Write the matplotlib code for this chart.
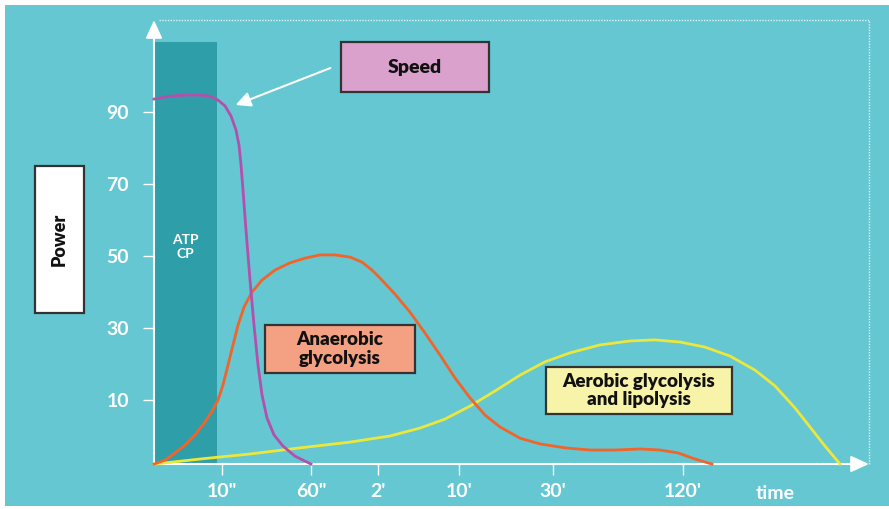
#Energy systems chart: power output of each system versus time
import numpy as np
import matplotlib.pyplot as plt
from matplotlib.patches import Rectangle, FancyArrowPatch

plt.rcParams['font.family'] = ['Lato', 'DejaVu Sans']

W, H = 889, 509

#time axis: positions of the ticks (1 unit = 100 px from origin)
tick_pos = [0.68, 1.57, 2.24, 3.05, 3.99, 5.29]
tick_labels = ['10"', '60"', "2'", "10'", "30'", "120'"]
power_ticks = [10, 30, 50, 70, 90]

#ATP-CP zone
atp_end = 0.63
atp_top = 109.4

#speed curve (purple)
speed_t = [0, 0.16, 0.31, 0.46, 0.56, 0.64, 0.71, 0.77, 0.82, 0.85, 0.87, 0.89, 0.92, 0.96, 1.00,
           1.04, 1.08, 1.13, 1.20, 1.29, 1.41, 1.57]
speed_p = [93.6, 94.4, 94.7, 94.7, 94.4, 93.3, 91.7, 88.9, 85.0, 80.8, 75.3, 68.3, 57.2, 43.3, 30.8,
           19.7, 11.4, 5.0, 0.3, -2.8, -5.6, -7.8]

#anaerobic glycolysis (orange)
anaer_t = [0, 0.11, 0.21, 0.31, 0.41, 0.51, 0.58, 0.64, 0.69, 0.74, 0.79, 0.84, 0.90, 0.98, 1.08,
           1.21, 1.36, 1.51, 1.66, 1.81, 1.96, 2.08, 2.18, 2.28, 2.41, 2.56, 2.71, 2.86, 3.01, 3.16,
           3.31, 3.46, 3.66, 3.86, 4.11, 4.36, 4.61, 4.86, 5.06, 5.24, 5.41, 5.58]
anaer_p = [-7.8, -6.7, -4.7, -2.5, 0.3, 3.9, 6.9, 10.0, 14.2, 19.7, 25.3, 30.8, 35.8, 40.0, 43.3,
           46.1, 48.1, 49.4, 50.3, 50.3, 49.7, 48.3, 46.1, 43.3, 39.4, 34.4, 28.6, 22.5, 16.1, 10.6,
           5.8, 2.5, -0.6, -2.2, -3.3, -3.9, -3.9, -3.6, -3.9, -4.7, -6.4, -7.8]

#aerobic glycolysis and lipolysis (yellow)
aer_t = [0, 0.46, 0.96, 1.46, 1.96, 2.36, 2.66, 2.91, 3.16, 3.41, 3.66, 3.91, 4.16, 4.46, 4.76,
         5.01, 5.26, 5.51, 5.76, 6.01, 6.21, 6.41, 6.56, 6.71, 6.86]
aer_p = [-7.8, -6.4, -5.0, -3.3, -1.7, 0.0, 2.2, 4.7, 8.3, 12.5, 16.9, 20.6, 23.1, 25.3, 26.4,
         26.7, 26.1, 24.7, 22.2, 18.3, 13.9, 7.8, 2.5, -2.8, -7.8]


def fig_xy(x, y):
    return x / W, 1 - y / H


fig = plt.figure(figsize=(W / 100, H / 100), dpi=100)
fig.patch.set_facecolor('white')
fig.patches.append(Rectangle(fig_xy(5, 506), (W - 5) / W, 501 / H, transform=fig.transFigure,
                             facecolor='#64c7d1', edgecolor='none', zorder=-5))

ax = fig.add_axes([154 / W, (H - 464) / H, (869 - 154) / W, (464 - 20) / H])
ax.set_zorder(1)
ax.set_facecolor('none')
ax.set_xlim(0, 7.15)
ax.set_ylim(-7.78, 115.56)
for s in ax.spines.values():
    s.set_visible(False)

white = 'white'
#ATP CP zone
ax.add_patch(Rectangle((0, -7.78), atp_end, atp_top + 7.78, facecolor='#2e9ea9', edgecolor='none', zorder=1))
ax.text(atp_end / 2, 52.5, 'ATP\nCP', color=white, fontsize=10, ha='center', va='center',
        fontweight='bold', linespacing=1.25, zorder=2)

#dotted frame top and right
ax.plot([0.05, 7.15], [115.56, 115.56], color=white, lw=1, ls=(0, (1, 1)), alpha=0.8, clip_on=False)
ax.plot([7.15, 7.15], [-7.78, 115.56], color=white, lw=1, ls=(0, (1, 1)), alpha=0.8, clip_on=False)

#axes with arrows
ax.annotate('', xy=(7.15, -7.78), xytext=(0, -7.78),
            arrowprops=dict(arrowstyle='-|>,head_length=1.1,head_width=0.5', color=white, lw=1.5,
                            shrinkA=0, shrinkB=0),
            annotation_clip=False)
ax.annotate('', xy=(0, 115.56), xytext=(0, -7.78),
            arrowprops=dict(arrowstyle='-|>,head_length=1.1,head_width=0.5', color=white, lw=1.5,
                            shrinkA=0, shrinkB=0),
            annotation_clip=False)

#ticks
ax.set_xticks(tick_pos)
ax.set_xticklabels(tick_labels)
ax.set_yticks(power_ticks)
ax.tick_params(axis='both', colors=white, labelcolor=white, length=8, width=1, labelsize=14)
ax.tick_params(axis='x', pad=6)
ax.tick_params(axis='y', pad=10)
for lb in ax.get_xticklabels() + ax.get_yticklabels():
    lb.set_fontweight('bold')
ax.text(6.21, -13.6, 'time', color=white, fontsize=14, fontweight='bold', ha='center', va='top')

#curves
ax.plot(aer_t, aer_p, color='#ece73c', lw=2, zorder=3, clip_on=False, solid_joinstyle='round')
ax.plot(anaer_t, anaer_p, color='#f2642a', lw=2, zorder=4, clip_on=False, solid_joinstyle='round')
ax.plot(speed_t, speed_p, color='#b54fae', lw=2, zorder=5, clip_on=False, solid_joinstyle='round')


#label boxes
def box(x0, y0, x1, y1, face, text, size=13.5, rot=0):
    x, y = fig_xy(x0, y1)
    fig.patches.append(Rectangle((x, y), (x1 - x0) / W, (y1 - y0) / H, transform=fig.transFigure,
                                 facecolor=face, edgecolor='#333333', lw=1.6, zorder=5))
    cx, cy = fig_xy((x0 + x1) / 2, (y0 + y1) / 2)
    fig.text(cx, cy, text, ha='center', va='center', fontsize=size, fontweight='heavy',
             color='#111111', rotation=rot, linespacing=1.1, zorder=6)


box(341, 42, 489, 92, '#d9a1cb', 'Speed', size=14)
box(265, 325, 415, 373, '#f4a183', 'Anaerobic\nglycolysis')
box(546, 367, 732, 414, '#f7f3a8', 'Aerobic glycolysis\nand lipolysis')
box(35, 166, 84, 313, 'white', 'Power', size=13, rot=90)

#arrow pointing to speed curve
fig.patches.append(FancyArrowPatch(fig_xy(333, 67), fig_xy(233, 106), transform=fig.transFigure,
                                   arrowstyle='-|>,head_length=9,head_width=4.5', color=white, lw=1.5,
                                   zorder=6))

plt.savefig('out.png', dpi=100)
